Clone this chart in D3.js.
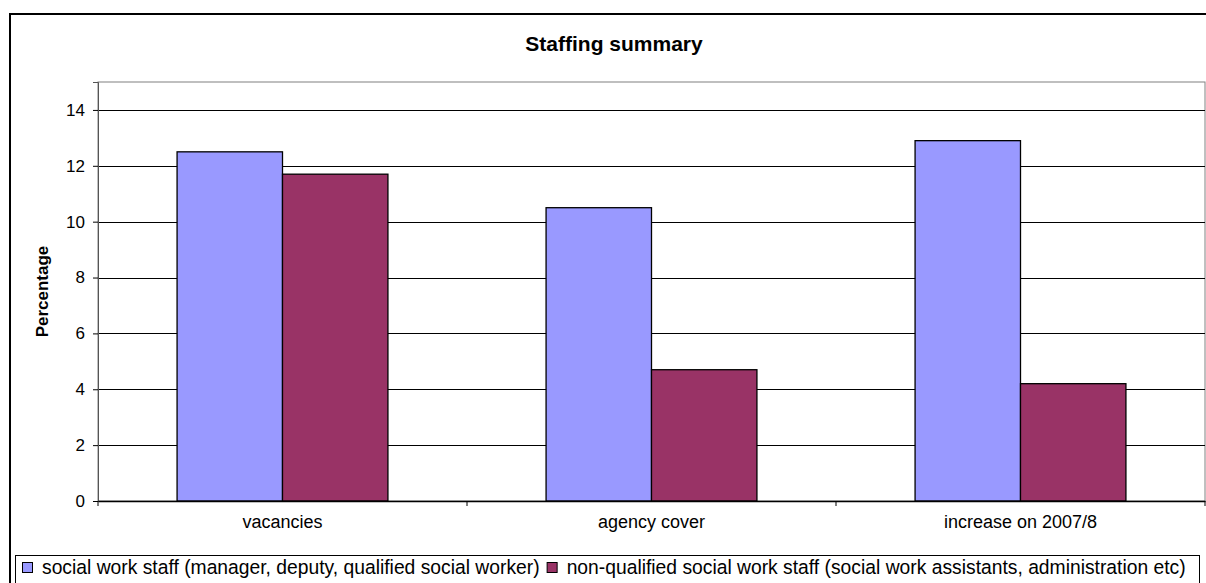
<!DOCTYPE html>
<html>
<head>
<meta charset="utf-8">
<title>Staffing summary</title>
<script src="https://d3js.org/d3.v7.min.js"></script>
<style>
  body { margin: 0; background: #fff; }
  text { font-family: Arial, "Liberation Sans", sans-serif; }
</style>
</head>
<body>
<div id="chart"></div>
<script>
// data
const categories = ["vacancies", "agency cover", "increase on 2007/8"];
const seriesNames = [
  "social work staff (manager, deputy, qualified social worker)",
  "non-qualified social work staff (social work assistants, administration etc)"
];
const socialWork = [12.5, 10.5, 12.9];
const nonQualified = [11.7, 4.7, 4.2];
const yTicks = [0, 2, 4, 6, 8, 10, 12, 14];
const colors = ["#9999ff", "#993366"];

const W = 1206, H = 583;
const margin = {top: 82, right: 1, bottom: 82, left: 98};
const w = 1205 - margin.left;
const h = 501 - margin.top;

const svg = d3.select("#chart").append("svg")
  .attr("width", W).attr("height", H);

// outer chart frame (runs off the right/bottom edge like the original)
svg.append("rect")
  .attr("x", 10).attr("y", 14)
  .attr("width", 1208).attr("height", 600)
  .attr("fill", "none").attr("stroke", "#000").attr("stroke-width", 2);

svg.append("text")
  .attr("x", 614).attr("y", 51)
  .attr("text-anchor", "middle")
  .attr("font-size", "21px").attr("font-weight", "bold")
  .text("Staffing summary");

const g = svg.append("g")
  .attr("transform", "translate(" + margin.left + "," + margin.top + ")");

const x0 = d3.scaleBand().domain(categories).range([0, w]);
const x1 = d3.scaleBand().domain([0, 1]).range([0, x0.bandwidth()]).paddingOuter(0.75);
const y = d3.scaleLinear().domain([0, 15]).range([h, 0]);

// plot area border (grey top/right)
g.append("rect")
  .attr("width", w).attr("height", h)
  .attr("fill", "none").attr("stroke", "#808080").attr("stroke-width", 1);

// gridlines
g.selectAll(".grid").data(yTicks.filter(d => d > 0)).enter().append("line")
  .attr("x1", 0).attr("x2", w)
  .attr("y1", d => Math.round(y(d)) + 0.5).attr("y2", d => Math.round(y(d)) + 0.5)
  .attr("stroke", "#000").attr("stroke-width", 1);

// bars
const rows = categories.map((c, i) => ({cat: c, vals: [socialWork[i], nonQualified[i]]}));
const groups = g.selectAll(".grp").data(rows).enter().append("g")
  .attr("transform", d => "translate(" + x0(d.cat) + ",0)");
groups.selectAll("rect").data(d => d.vals.map((v, k) => ({k: k, v: v}))).enter().append("rect")
  .attr("x", d => x1(d.k))
  .attr("y", d => y(d.v))
  .attr("width", x1.bandwidth())
  .attr("height", d => h - y(d.v))
  .attr("fill", d => colors[d.k])
  .attr("stroke", "#000").attr("stroke-width", 1.3);

// y axis
const yAxis = g.append("g")
  .call(d3.axisLeft(y).tickValues(yTicks).tickSize(5).tickPadding(8));
yAxis.select(".domain").attr("stroke", "#555");
yAxis.selectAll("text").attr("font-size", "17px").attr("fill", "#000")
  .style("font-family", "Arial, 'Liberation Sans', sans-serif");

// x axis
const xAxis = g.append("g").attr("transform", "translate(0," + h + ")")
  .call(d3.axisBottom(x0).tickSize(0).tickPadding(14));
xAxis.select(".domain").attr("stroke", "#000").attr("stroke-width", 1.5);
xAxis.selectAll("text").attr("font-size", "18px").attr("fill", "#000")
  .style("font-family", "Arial, 'Liberation Sans', sans-serif");
// tick marks at category boundaries
g.selectAll(".xt").data(categories.concat(["end"])).enter().append("line")
  .attr("x1", (d, i) => i * x0.step()).attr("x2", (d, i) => i * x0.step())
  .attr("y1", h).attr("y2", h + 5)
  .attr("stroke", "#000");

// y axis title
svg.append("text")
  .attr("transform", "translate(48," + (margin.top + h / 2) + ") rotate(-90)")
  .attr("text-anchor", "middle")
  .attr("font-size", "17px").attr("font-weight", "bold")
  .text("Percentage");

// legend
const leg = svg.append("g");
leg.append("rect")
  .attr("x", 15.5).attr("y", 555.5).attr("width", 1184).attr("height", 40)
  .attr("fill", "#fff").attr("stroke", "#000").attr("stroke-width", 1);
let cx = 22;
seriesNames.forEach((name, i) => {
  leg.append("rect")
    .attr("x", cx + 0.5).attr("y", 562.5).attr("width", 10).attr("height", 10)
    .attr("fill", colors[i]).attr("stroke", "#000");
  const t = leg.append("text")
    .attr("x", cx + 20).attr("y", 574)
    .attr("font-size", "19.3px")
    .text(name);
  cx += 20 + t.node().getComputedTextLength() + 7;
});
</script>
</body>
</html>
